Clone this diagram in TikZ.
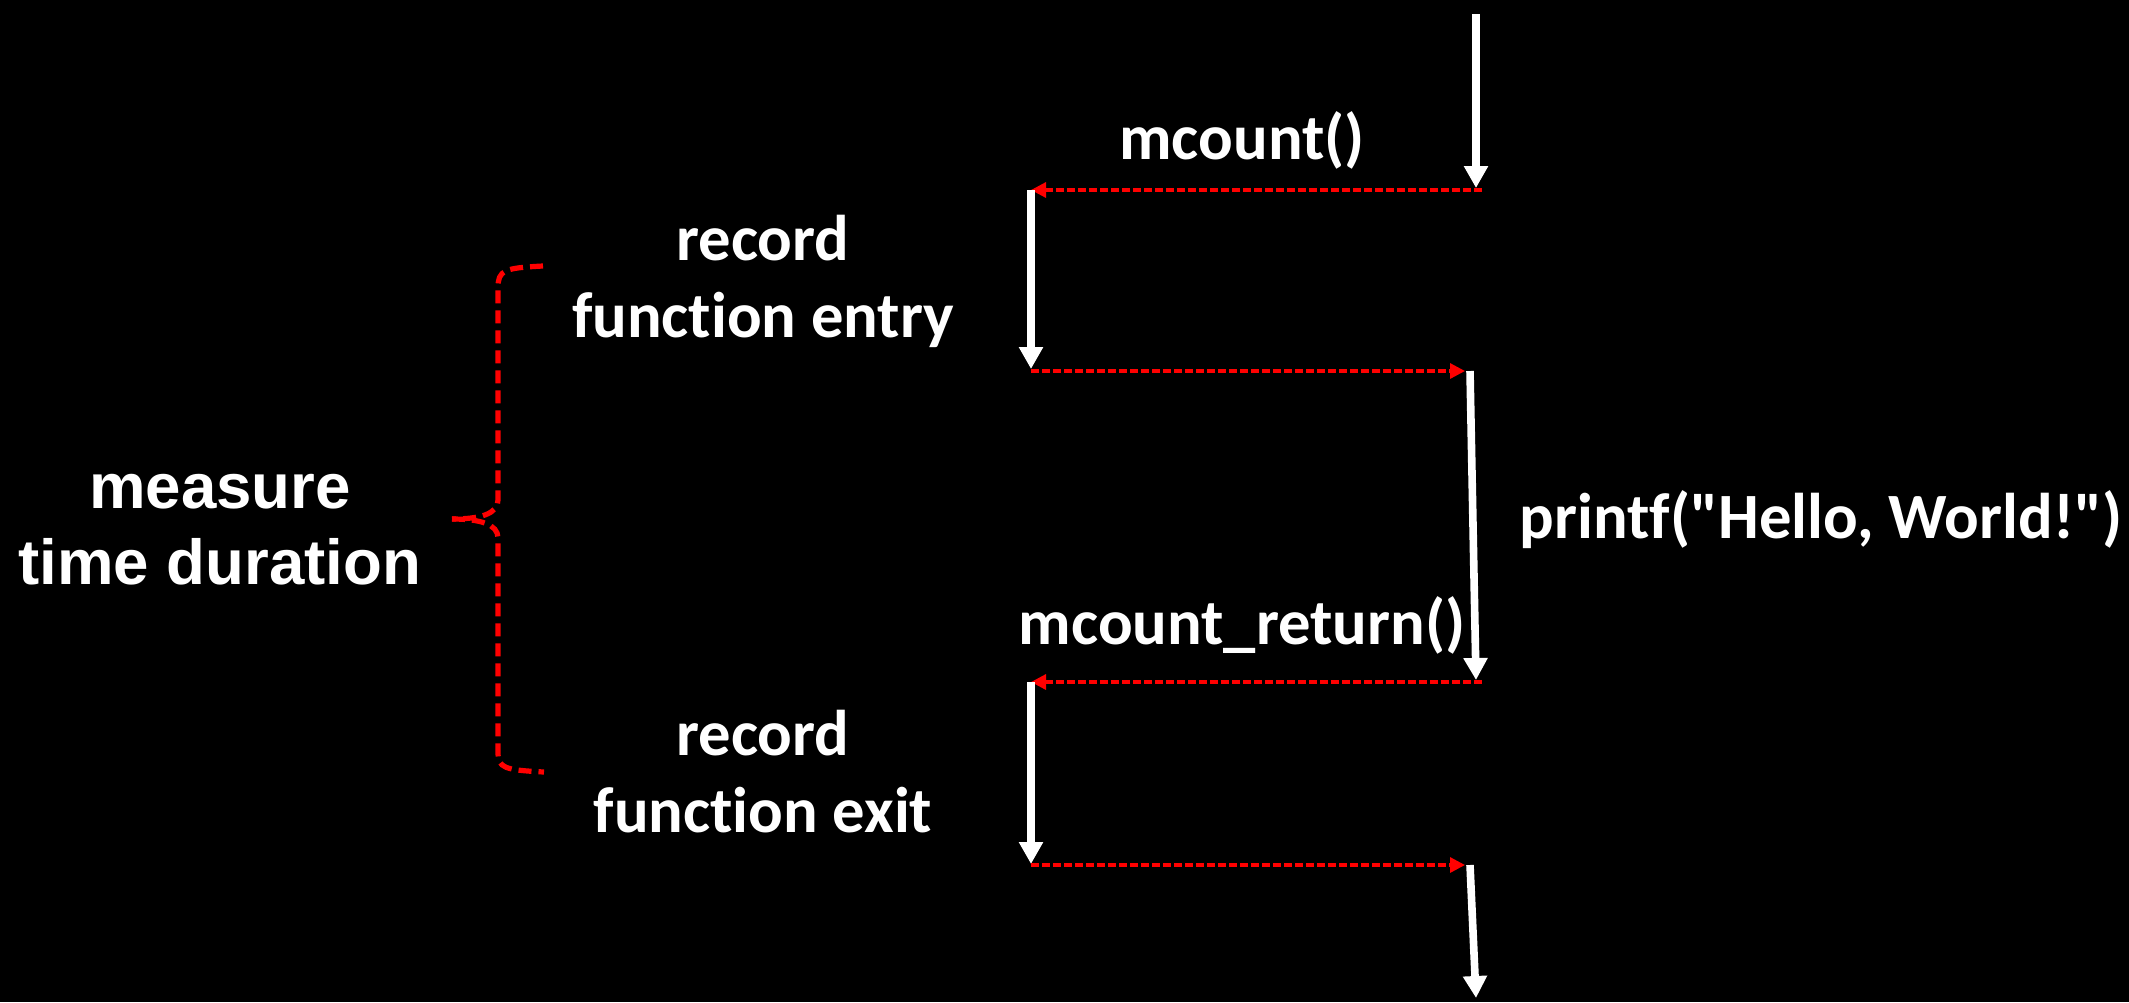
\documentclass[tikz,border=0pt]{standalone}
\usepackage{fontspec}
\setmainfont{Carlito}[Ligatures={TeXOff,NoCommon}]
\newfontfamily\arialfont{Liberation Sans}
\usetikzlibrary{arrows.meta,positioning}

\begin{document}
\begin{tikzpicture}[x=0.5pt,y=-0.5pt,
  flowline/.style={
    draw=white,
    line width=3.8pt,
    -{Triangle[width=11.5pt,length=11pt]},
  },
  hookline/.style={
    draw=red,
    line width=1.6pt,
    dash pattern=on 4pt off 1.5pt,
    -{Triangle[width=7.5pt,length=7.5pt]},
  },
  bracestyle/.style={
    draw=red,
    line width=2.6pt,
    dash pattern=on 6.5pt off 3.5pt,
  },
  calltext/.style={
    text=white,
    font=\bfseries\fontsize{32.3}{38.5}\selectfont,
    align=center,
    inner sep=0pt,
  }]
\fill[black] (0,0) rectangle (2129,1002);
% main function (right) and tracer (left)
\coordinate (mainTop) at (1476,14);
\coordinate (mainCall) at (1476,188);
\coordinate (hookIn) at (1482,190);
\coordinate (entryTop) at (1031,190);
\coordinate (entryBot) at (1031,369);
\coordinate (entryOut) at (1031,371);
\coordinate (bodyIn) at (1465,371);
\coordinate (bodyTop) at (1470,371);
\coordinate (bodyBot) at (1476,680);
\coordinate (retIn) at (1482,682);
\coordinate (exitTop) at (1031,682);
\coordinate (exitBot) at (1031,864);
\coordinate (exitOut) at (1031,865);
\coordinate (backIn) at (1465,865);
\coordinate (tailTop) at (1470,865);
\coordinate (tailBot) at (1476,998);
\path (mainTop) edge[flowline] (mainCall)
  (hookIn) edge[hookline] (entryTop)
  (entryTop) edge[flowline] (entryBot)
  (entryOut) edge[hookline] (bodyIn)
  (bodyTop) edge[flowline] (bodyBot)
  (retIn) edge[hookline] (exitTop)
  (exitTop) edge[flowline] (exitBot)
  (exitOut) edge[hookline] (backIn)
  (tailTop) edge[flowline] (tailBot);
% labels
\node[calltext] (mcount) at (1242,140) {mcount()};
\node[calltext] (entry) at (763,281) {record\\function entry};
\node[calltext] (printf) at (1821,520) {printf("Hello, World!")};
\node[calltext] (mret) at (1242,625) {mcount\_return()};
\node[calltext] (exit) at (763,772) {record\\function exit};
\node[calltext,font=\arialfont\bfseries\fontsize{31.8}{38}\selectfont] (measure) at (220,530) {measure\\time duration};
% brace
\coordinate (braceTop) at (543,266);
\coordinate (braceTip) at (452,519);
\coordinate (braceBot) at (544,772);
\draw[bracestyle] (braceTop) .. controls (504,268) and (498,270) .. (498,288) -- (498,500)
  .. controls (498,514) and (480,519) .. (braceTip);
\draw[bracestyle] (braceTip) .. controls (480,519) and (498,524) .. (498,538) -- (498,752)
  .. controls (498,768) and (504,770) .. (braceBot);
\end{tikzpicture}
\end{document}
